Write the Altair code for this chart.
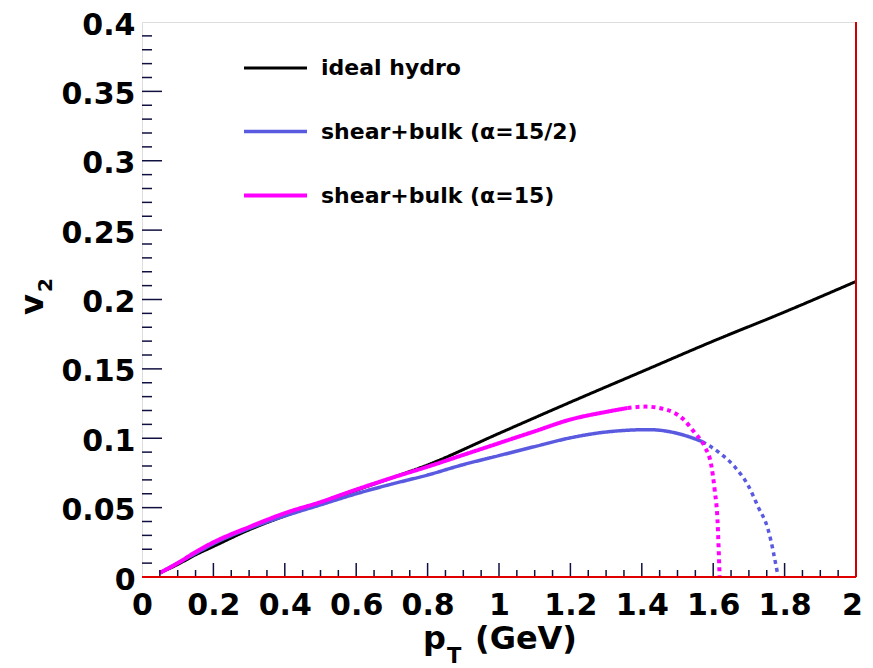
import altair as alt
import pandas as pd

# ---------------- data ----------------
series_names = ["ideal hydro", "shear+bulk (\u03b1=15/2)", "shear+bulk (\u03b1=15)"]
series_colors = ["#000000", "#5a5ae0", "#ff00ff"]

ideal_x = [0.05, 0.10, 0.15, 0.20, 0.30, 0.40, 0.50, 0.60, 0.70, 0.80, 1.00, 1.20, 1.40, 1.60, 1.80, 2.00]
ideal_y = [0.003, 0.009, 0.016, 0.022, 0.034, 0.044, 0.053, 0.0625, 0.0715, 0.0808, 0.1035, 0.126, 0.148, 0.170, 0.191, 0.213]

a152_x = [0.05, 0.10, 0.15, 0.20, 0.30, 0.40, 0.50, 0.60, 0.70, 0.80, 0.90, 1.00, 1.10, 1.20, 1.30, 1.42, 1.50, 1.57]
a152_y = [0.003, 0.010, 0.017, 0.024, 0.035, 0.044, 0.052, 0.060, 0.067, 0.0735, 0.081, 0.0875, 0.094, 0.1003, 0.1045, 0.1062, 0.1035, 0.0975]
a152_dot_x = [1.57, 1.62, 1.66, 1.70, 1.725, 1.754, 1.782]
a152_dot_y = [0.0975, 0.089, 0.0795, 0.065, 0.051, 0.034, 0.0]

a15_x = [0.05, 0.10, 0.15, 0.20, 0.30, 0.40, 0.50, 0.60, 0.70, 0.80, 0.90, 1.00, 1.10, 1.20, 1.30, 1.36]
a15_y = [0.003, 0.010, 0.018, 0.025, 0.036, 0.046, 0.054, 0.063, 0.0715, 0.0795, 0.088, 0.0965, 0.105, 0.1135, 0.119, 0.1218]
a15_dot_x = [1.36, 1.41, 1.47, 1.515, 1.548, 1.576, 1.595, 1.604, 1.612, 1.618]
a15_dot_y = [0.1218, 0.1228, 0.1205, 0.114, 0.104, 0.094, 0.080, 0.063, 0.041, 0.0]

x_major_ticks = [0.2, 0.4, 0.6, 0.8, 1.0, 1.2, 1.4, 1.6, 1.8]
x_minor_ticks = [round(0.05 * i, 2) for i in range(1, 40) if i % 4 != 0]
y_major_ticks = [0.05, 0.10, 0.15, 0.20, 0.25, 0.30, 0.35]
y_minor_ticks = [round(0.01 * i, 2) for i in range(1, 40) if i % 5 != 0]
x_label_values = [0, 0.2, 0.4, 0.6, 0.8, 1.0, 1.2, 1.4, 1.6, 1.8, 2.0]
y_label_values = [0, 0.05, 0.1, 0.15, 0.2, 0.25, 0.3, 0.35, 0.4]

# ---------------- build table ----------------
rows = []
def add(name, seg, xs, ys, order):
    for i, (x, y) in enumerate(zip(xs, ys)):
        rows.append({"series": name, "seg": seg, "grp": f"{order}_{name}_{seg}",
                     "pt": x, "v2": y, "ord": i})

add(series_names[0], "solid", ideal_x, ideal_y, 0)
add(series_names[1], "solid", a152_x, a152_y, 1)
add(series_names[1], "dotted", a152_dot_x, a152_dot_y, 2)
add(series_names[2], "solid", a15_x, a15_y, 3)
add(series_names[2], "dotted", a15_dot_x, a15_dot_y, 4)
df = pd.DataFrame(rows)

W, H = 714, 555
FONT = "DejaVu Sans"

xscale = alt.Scale(domain=[0, 2], nice=False, zero=False)
yscale = alt.Scale(domain=[0, 0.4], nice=False, zero=False)

lines = alt.Chart(df).mark_line(clip=True, interpolate="monotone").encode(
    x=alt.X("pt:Q", scale=xscale,
            axis=alt.Axis(values=x_label_values, format="~g", title=None, domain=False,
                          ticks=False, grid=False, labelFont=FONT, labelFontSize=30,
                          labelFontWeight="bold", labelColor="black", labelPadding=13,
                          labelOffset={"condition": {"test": "datum.value == 2", "value": -4}, "value": 0},
                          labelFlush=False, labelOverlap=False)),
    y=alt.Y("v2:Q", scale=yscale,
            axis=alt.Axis(values=y_label_values, format="~g", title=None, domain=False,
                          ticks=False, grid=False, labelFont=FONT, labelFontSize=30,
                          labelFontWeight="bold", labelColor="black", labelPadding=7,
                          labelOffset=3, labelFlush=False, labelOverlap=False)),
    color=alt.Color("series:N",
                    scale=alt.Scale(domain=series_names, range=series_colors),
                    legend=alt.Legend(title=None, orient="none", legendX=100, legendY=13,
                                      symbolType="stroke", symbolSize=3969,
                                      symbolStrokeWidth=3.5, rowPadding=19,
                                      labelFont=FONT, labelFontSize=22, labelLimit=500,
                                      labelFontWeight="bold", labelOffset=12,
                                      labelColor="black")),
    strokeDash=alt.StrokeDash("seg:N",
                              scale=alt.Scale(domain=["solid", "dotted"], range=[[1, 0], [4, 4]]),
                              legend=None),
    strokeWidth=alt.StrokeWidth("series:N",
                                scale=alt.Scale(domain=series_names, range=[3, 4, 4]),
                                legend=None),
    detail="grp:N",
    order="ord:Q",
)

tick_color = "#101040"

xmaj = alt.Chart(pd.DataFrame({"t": x_major_ticks})).mark_rule(color=tick_color, strokeWidth=1.5).encode(
    x=alt.X("t:Q", scale=xscale), y=alt.value(H), y2=alt.value(H - 14))
xmin = alt.Chart(pd.DataFrame({"t": x_minor_ticks})).mark_rule(color=tick_color, strokeWidth=1.5).encode(
    x=alt.X("t:Q", scale=xscale), y=alt.value(H), y2=alt.value(H - 7))
ymaj = alt.Chart(pd.DataFrame({"t": y_major_ticks})).mark_rule(color=tick_color, strokeWidth=1.5).encode(
    y=alt.Y("t:Q", scale=yscale), x=alt.value(0), x2=alt.value(20))
ymin = alt.Chart(pd.DataFrame({"t": y_minor_ticks})).mark_rule(color=tick_color, strokeWidth=1.5).encode(
    y=alt.Y("t:Q", scale=yscale), x=alt.value(0), x2=alt.value(10))

frame_df = pd.DataFrame({"k": [0]})
bottom = alt.Chart(frame_df).mark_rule(color="#e00000", strokeWidth=2).encode(
    x=alt.value(0), x2=alt.value(W), y=alt.value(H))
right = alt.Chart(frame_df).mark_rule(color="#d00000", strokeWidth=2).encode(
    x=alt.value(W), y=alt.value(0), y2=alt.value(H))

def txt(s, x, y, size, align="left", angle=0, baseline="alphabetic"):
    kw = dict(font=FONT, fontSize=size, fontWeight="bold", color="black",
              align=align, baseline=baseline)
    if angle:
        kw["angle"] = angle
    return alt.Chart(pd.DataFrame({"s": [s]})).mark_text(**kw).encode(
        text="s:N", x=alt.value(x), y=alt.value(y))

title_p = txt("p", 281, 627, 32)
title_T = txt("T", 305, 641, 21)
title_gev = txt("(GeV)", 333, 627, 32)
title_v = txt("v", -99, 293, 32, angle=270)
title_2 = txt("2", -90, 270, 20, angle=270)

chart = alt.layer(
    lines, xmaj, xmin, ymaj, ymin, bottom, right,
    title_p, title_T, title_gev, title_v, title_2
).properties(
    width=W, height=H,
    autosize=alt.AutoSizeParams(type="none"),
    padding={"left": 134, "top": 14, "right": 9, "bottom": 90},
).configure_view(
    stroke="black", strokeWidth=2
).configure(background="white")

chart.save("out.html", embed_options={"renderer": "svg", "actions": False})
